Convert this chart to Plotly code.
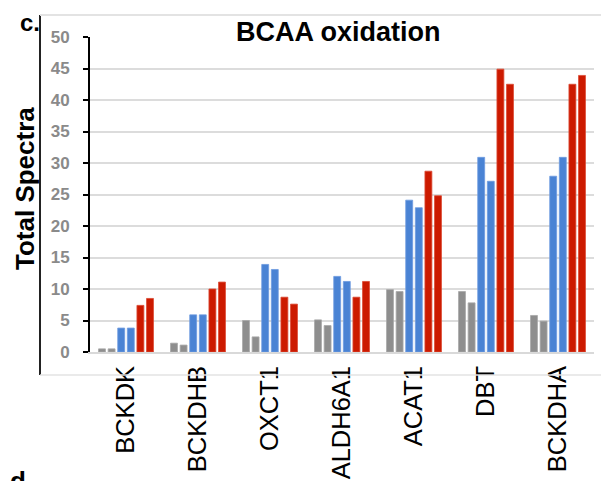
import plotly.graph_objects as go

categories = ["BCKDK", "BCKDHB", "OXCT1", "ALDH6A1", "ACAT1", "DBT", "BCKDHA"]
gray_1 = [0.5, 1.4, 5.0, 5.1, 9.9, 9.6, 5.8]
gray_2 = [0.5, 1.1, 2.4, 4.2, 9.6, 7.8, 4.9]
blue_1 = [3.8, 5.9, 13.9, 12.0, 24.1, 30.9, 27.9]
blue_2 = [3.8, 5.9, 13.1, 11.2, 22.9, 27.1, 30.9]
red_1 = [7.4, 10.0, 8.7, 8.7, 28.7, 44.9, 42.5]
red_2 = [8.5, 11.1, 7.6, 11.2, 24.8, 42.5, 43.9]
y_ticks = [0, 5, 10, 15, 20, 25, 30, 35, 40, 45, 50]

series = [
    ("gray 1", gray_1, "#8e8e8e", "#a8a8a8"),
    ("gray 2", gray_2, "#8e8e8e", "#a8a8a8"),
    ("blue 1", blue_1, "#4a83d4", "#6d9be0"),
    ("blue 2", blue_2, "#4a83d4", "#6d9be0"),
    ("red 1", red_1, "#cc1a00", "#dc4a33"),
    ("red 2", red_2, "#cc1a00", "#dc4a33"),
]

fig = go.Figure()
for name, vals, col, edge in series:
    fig.add_trace(go.Bar(x=categories, y=vals, name=name,
                         marker=dict(color=col, line=dict(color=edge, width=0.8)),
                         showlegend=False))

# page has an 8px body margin; figure is sized to fit the window
OFF = 8
W, H = 609 - OFF, 481 - OFF
L, T = 90 - OFF, 37 - OFF
B = H - (352 - OFF)
R = W - (594 - OFF)
pw, ph = W - L - R, H - T - B

def px(x):
    return (x - OFF - L) / pw

def py(y):
    return (H - B - (y - OFF)) / ph

FONT = "Arial, Liberation Sans, sans-serif"

fig.update_layout(
    width=W, height=H,
    margin=dict(l=L, r=R, t=T, b=B, pad=0, autoexpand=False),
    plot_bgcolor="white", paper_bgcolor="white",
    barmode="group", bargap=0.2, bargroupgap=0.28,
    font=dict(family=FONT),
    xaxis=dict(
        tickangle=-90, tickfont=dict(size=25.5, color="black", family=FONT),
        showline=True, linecolor="#d9d9d9", linewidth=1.5,
        showgrid=False, ticks="", automargin=False, ticklabelstandoff=2,
    ),
    yaxis=dict(
        range=[0, 50], tickvals=y_ticks,
        tickfont=dict(size=17, color="#8a8a8a", family=FONT, weight="bold"),
        showgrid=True, gridcolor="#dcdcdc", gridwidth=1.5,
        showline=True, linecolor="black", linewidth=2,
        ticks="outside", ticklen=5, tickwidth=2, tickcolor="black",
        ticklabelstandoff=10, zeroline=False, automargin=False,
    ),
    shapes=[
        dict(type="line", xref="paper", yref="paper", x0=px(40), x1=px(40), y0=py(15), y1=py(375),
             line=dict(color="#222222", width=2)),
        dict(type="line", xref="paper", yref="paper", x0=px(40), x1=px(609), y0=py(15), y1=py(15),
             line=dict(color="#e3e3e3", width=2)),
        dict(type="line", xref="paper", yref="paper", x0=px(40), x1=px(609), y0=py(375), y1=py(375),
             line=dict(color="#e3e3e3", width=1.5)),
    ],
    annotations=[
        dict(text="<b>BCAA oxidation</b>", xref="paper", yref="paper", x=px(338), y=py(32),
             xanchor="center", yanchor="middle", showarrow=False,
             font=dict(size=27, color="black", family=FONT)),
        dict(text="<b>Total Spectra</b>", xref="paper", yref="paper", x=px(25), y=py(189),
             xanchor="center", yanchor="middle", textangle=-90, showarrow=False,
             font=dict(size=26, color="black", family=FONT)),
        dict(text="<b>c.</b>", xref="paper", yref="paper", x=px(19), y=py(8),
             xanchor="left", yanchor="top", showarrow=False, borderpad=0,
             font=dict(size=24, color="black", family=FONT)),
        dict(text="<b>d</b>", xref="paper", yref="paper", x=px(8), y=py(464),
             xanchor="left", yanchor="top", showarrow=False,
             font=dict(size=26, color="black", family=FONT)),
    ],
)

fig.write_html("out.html")
